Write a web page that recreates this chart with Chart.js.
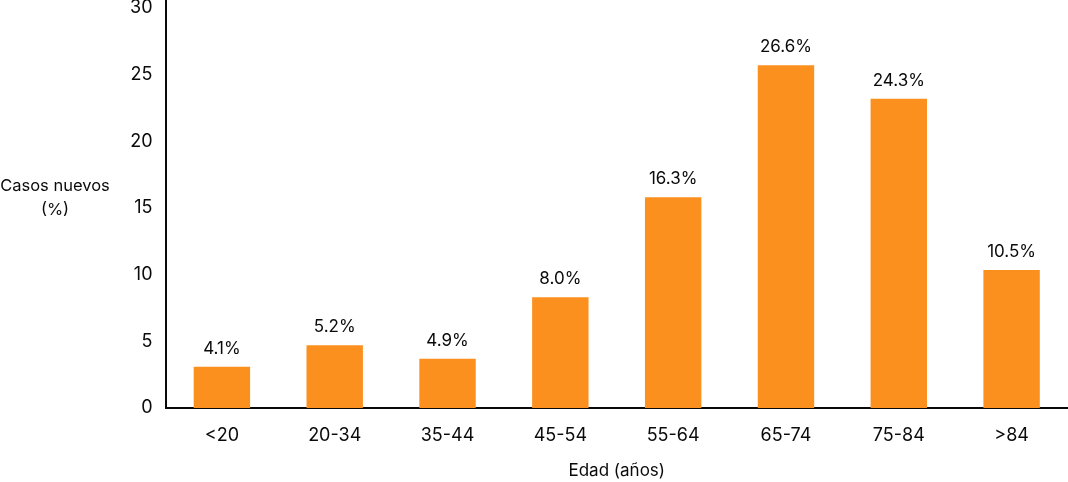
<!DOCTYPE html>
<html>
<head>
<meta charset="utf-8">
<script src="https://cdn.jsdelivr.net/npm/chart.js@4"></script>
<style>
  html, body { margin: 0; padding: 0; background: #fff; }
  #wrap { width: 1068px; height: 482px; }
</style>
</head>
<body>
<div id="wrap"><canvas id="chart"></canvas></div>
<script>
// grupos de edad y valores de las barras
const ageGroups = ['<20', '20-34', '35-44', '45-54', '55-64', '65-74', '75-84', '>84'];
const barValues = [3.1, 4.7, 3.7, 8.3, 15.8, 25.7, 23.2, 10.35];
const valueLabels = ['4.1%', '5.2%', '4.9%', '8.0%', '16.3%', '26.6%', '24.3%', '10.5%'];
const yTicks = [0, 5, 10, 15, 20, 25, 30];

const FONT = 'Inter, "Noto Sans", sans-serif';
const TEXT = '#0a0a0a';

// etiquetas sobre las barras y títulos de los ejes
const labelsPlugin = {
    id: 'labels',
    afterDatasetsDraw(chart) {
        const ctx = chart.ctx;
        const meta = chart.getDatasetMeta(0);
        ctx.save();
        ctx.fillStyle = TEXT;
        ctx.font = '17px ' + FONT;
        ctx.textAlign = 'center';
        ctx.textBaseline = 'middle';
        meta.data.forEach((bar, i) => {
            ctx.fillText(valueLabels[i], bar.x, bar.y - 18);
        });

        const area = chart.chartArea;
        ctx.font = '16.5px ' + FONT;
        ctx.fillText('Casos nuevos', 55, 186);
        ctx.fillText('(%)', 55, 210);

        ctx.font = '17px ' + FONT;
        ctx.fillText('Edad (años)', (area.left + area.right) / 2, 471);
        ctx.restore();
    }
};

new Chart(document.getElementById('chart'), {
    type: 'bar',
    data: {
        labels: ageGroups,
        datasets: [{
            data: barValues,
            backgroundColor: '#FB901F',
            borderWidth: 0,
            barPercentage: 0.5,
            categoryPercentage: 1
        }]
    },
    options: {
        responsive: true,
        maintainAspectRatio: false,
        animation: false,
        layout: { padding: 0 },
        plugins: {
            legend: { display: false },
            tooltip: { enabled: false }
        },
        scales: {
            x: {
                grid: { display: false, drawTicks: false },
                border: { color: TEXT, width: 2 },
                ticks: {
                    color: TEXT,
                    padding: 17,
                    font: { family: FONT, size: 18 }
                },
                afterFit(scale) {
                    scale.height = 74;
                    scale.paddingLeft = 0;
                    scale.paddingRight = 0;
                }
            },
            y: {
                min: 0,
                max: 30.6,
                grid: { display: false, drawTicks: false },
                border: { color: TEXT, width: 2 },
                afterBuildTicks(scale) {
                    scale.ticks = yTicks.map(v => ({ value: v }));
                },
                ticks: {
                    color: TEXT,
                    padding: 13,
                    labelOffset: 0,
                    font: { family: FONT, size: 18 }
                },
                afterFit(scale) {
                    scale.width = 165.5;
                    scale.paddingTop = 0;
                    scale.paddingBottom = 0;
                }
            }
        }
    },
    plugins: [labelsPlugin]
});
</script>
</body>
</html>
